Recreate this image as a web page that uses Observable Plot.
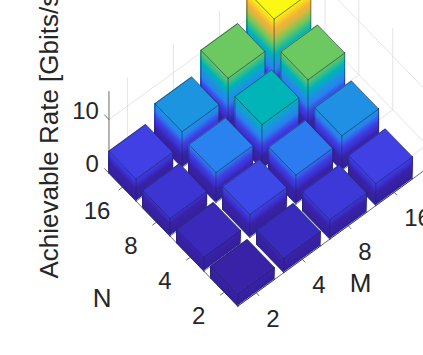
<!DOCTYPE html>
<html><head><meta charset="utf-8">
<style>html,body{margin:0;padding:0;background:#fff}svg{display:block}</style>
<script src="https://cdn.jsdelivr.net/npm/d3@7"></script>
<script src="https://cdn.jsdelivr.net/npm/@observablehq/plot@0.6"></script>
</head><body><div id="c"></div>
<script>
const nLabels = [2, 4, 8, 16];
const mLabels = [2, 4, 8, 16];
const zTicks = [0, 10];
const rateN2  = [2.2, 2.7, 3.6, 4.1];
const rateN4  = [2.6, 4.3, 5.4, 6.5];
const rateN8  = [3.3, 5.6, 8.3, 10.4];
const rateN16 = [4.1, 6.7, 10.4, 15.2];
const rates = [rateN2, rateN4, rateN8, rateN16];

const colorDomain = [0, 2.2, 3.0, 4.1, 5.5, 6.6, 8.3, 10.4, 12, 13, 14, 15.2];
const colorRange = ["#33209a","#3a22a8","#3a30cc","#4040e4","#2a80f0","#1e92e2","#00b4b8","#6cc860","#d0ba40","#f5b23c","#f8d028","#fbf814"];

// oblique camera: m and n are positions along the two floor axes in bar steps
const cam = {ox: 237.3, oy: 305.7, mx: 46, my: -33.5, nx: -33.9, ny: -35, zk: 5.37};
const P = (m, n, z = 0) => ({x: cam.ox + m * cam.mx + n * cam.nx, y: cam.oy + m * cam.my + n * cam.ny - z * cam.zk});
const barW = 0.8, nMax = 3.8, mMax = 4.4, zMax = 15.2, tick = 0.08;
const seg = (a, b, id) => [{...a, id}, {...b, id}];
const poly = (pts, id) => [...pts, pts[0]].map(p => ({...p, id}));
const quad = (a, b, c, d, id, v) => [{x1: a.x, y1: a.y, x2: d.x, y2: d.y, id, v}, {x1: b.x, y1: b.y, x2: c.x, y2: c.y, id, v}];

// walls and floor
const grid = [];
mLabels.forEach((_, i) => {
  grid.push(...seg(P(i + .4, nMax), P(i + .4, nMax, zMax), "wm" + i));
  grid.push(...seg(P(i + .4, 0), P(i + .4, nMax), "fm" + i));
});
nLabels.forEach((_, i) => {
  grid.push(...seg(P(mMax, i + .4), P(mMax, i + .4, zMax), "wn" + i));
  grid.push(...seg(P(0, i + .4), P(mMax, i + .4), "fn" + i));
});
zTicks.forEach(z => {
  grid.push(...seg(P(0, nMax, z), P(mMax, nMax, z), "zl" + z));
  grid.push(...seg(P(mMax, 0, z), P(mMax, nMax, z), "zr" + z));
});

const axes = [...seg(P(0, 0), P(0, nMax), "an"), ...seg(P(0, 0), P(mMax, 0), "am"), ...seg(P(0, nMax), P(0, nMax, zMax), "az")];
mLabels.forEach((_, i) => axes.push(...seg(P(i + .4, 0), P(i + .4, -tick), "tm" + i)));
nLabels.forEach((_, i) => axes.push(...seg(P(0, i + .4), P(-tick, i + .4), "tn" + i)));
zTicks.forEach(z => axes.push(...seg(P(0, nMax, z), P(0, nMax + .13, z), "tz" + z)));

const font = {fontFamily: "Liberation Sans, Arial, sans-serif", fill: "#262626"};
const nTickLabels = nLabels.map((t, i) => ({t, ...P(-.62, i + .31)}));
const mTickLabels = mLabels.map((t, i) => ({t, ...P(i + .29, -.64)}));
const zLabels = zTicks.map(t => ({t, x: P(0, nMax).x - 10, y: P(0, nMax, t).y - 8.5}));

const marks = [
  Plot.line(grid, {x: "x", y: "y", z: "id", stroke: "#e4e4e4", strokeWidth: 1}),
  Plot.line(axes, {x: "x", y: "y", z: "id", stroke: "#6a6a6a", strokeWidth: 1}),
];

// painter's order: far bars first; each side band runs to the bar's top and is overpainted by the next
const order = d3.cross(d3.range(4), d3.range(4)).sort((a, b) => (b[0] + b[1]) - (a[0] + a[1]));
for (const [iN, iM] of order) {
  const h = rates[iN][iM];
  const f = (dm, dn, z) => P(iM + dm, iN + dn, z);
  const bands = [];
  const step = 0.2;
  for (let z = 0, k = 0; z < h; z += step, k++) {
    const v = Math.min(h, z + step / 2);
    bands.push(...quad(f(0,0,z), f(barW,0,z), f(barW,0,h), f(0,0,h), "r" + k, v));
    bands.push(...quad(f(0,0,z), f(0,barW,z), f(0,barW,h), f(0,0,h), "l" + k, v));
  }
  const topFace = quad(f(0,0,h), f(barW,0,h), f(barW,barW,h), f(0,barW,h), "t", h);
  const edges = [
    ...poly([f(0,0,h), f(barW,0,h), f(barW,barW,h), f(0,barW,h)], "top"),
    ...seg(f(0,0,0), f(0,0,h), "e0"),
    ...seg(f(barW,0,0), f(barW,0,h), "e1"),
    ...seg(f(0,barW,0), f(0,barW,h), "e2"),
    ...seg(f(0,barW,0), f(0,0,0), "e3"),
    ...seg(f(barW,0,0), f(0,0,0), "e4"),
  ];
  marks.push(
    Plot.area(bands, {x1: "x1", y1: "y1", x2: "x2", y2: "y2", z: "id", fill: "v"}),
    Plot.area(topFace, {x1: "x1", y1: "y1", x2: "x2", y2: "y2", z: "id", fill: "v"}),
    Plot.line(edges, {x: "x", y: "y", z: "id", stroke: "#1b2a4a", strokeWidth: .7, strokeOpacity: .8})
  );
}

const nTitle = P(-1.633, 1.784), mTitle = P(1.848, -1.112);
marks.push(
  Plot.text(nTickLabels, {x: "x", y: "y", text: d => String(d.t), fontSize: 24, ...font}),
  Plot.text(mTickLabels, {x: "x", y: "y", dx: -6.7, textAnchor: "start", text: d => String(d.t), fontSize: 24, ...font}),
  Plot.text(zLabels, {x: "x", y: "y", text: d => String(d.t), fontSize: 24, textAnchor: "end", ...font}),
  Plot.text(["N"], {x: [nTitle.x], y: [nTitle.y], fontSize: 26, ...font}),
  Plot.text(["M"], {x: [mTitle.x], y: [mTitle.y], fontSize: 26, ...font}),
  Plot.text(["Achievable Rate [Gbits/s]"], {x: [49], y: [278], rotate: -90, textAnchor: "start", fontSize: 26, ...font})
);

const chart = Plot.plot({
  width: 423, height: 355, margin: 0,
  x: {domain: [0, 423], range: [0, 423], axis: null},
  y: {domain: [0, 355], range: [0, 355], axis: null},
  color: {type: "linear", domain: colorDomain, range: colorRange, clamp: true},
  marks
});
document.getElementById("c").append(chart);
</script></body></html>
